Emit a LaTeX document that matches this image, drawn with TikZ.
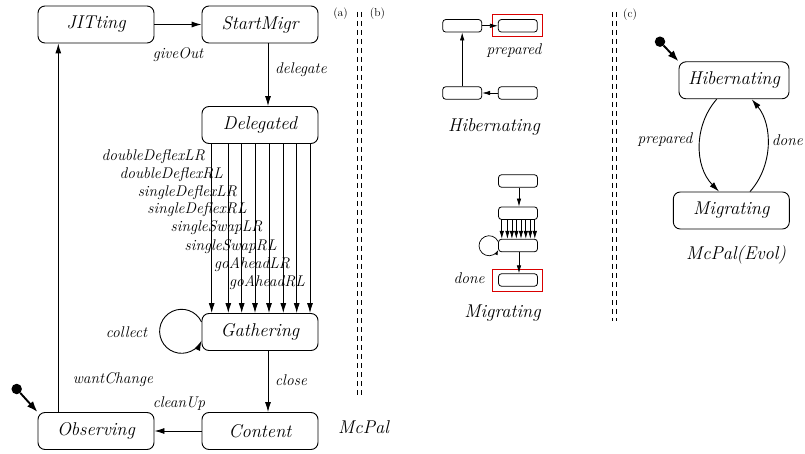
\documentclass[tikz,border=0pt]{standalone}
\usepackage{fontspec}
\usetikzlibrary{arrows.meta,calc}
\newcommand\mystatefont{\fontsize{18.5}{20}\selectfont\itshape}
\newcommand\mylabelfont{\fontsize{15.5}{17}\selectfont\itshape}
\newcommand\mytagfont{\fontsize{11.5}{13}\selectfont}
\begin{document}
\begin{tikzpicture}[x=1pt,y=-1pt,
  state/.style={draw, line width=0.9pt, rounded corners=7pt, minimum width=116pt,
                minimum height=37pt, inner sep=0pt, font=\mystatefont},
  mini/.style={draw, line width=0.8pt, rounded corners=3pt, minimum width=39pt,
               minimum height=12.5pt, inner sep=0pt},
  arr/.style={line width=0.9pt, -{Latex[length=10pt,width=6pt]}},
  smallarr/.style={line width=0.7pt, -{Latex[length=8pt,width=4.5pt]}},
  lbl/.style={font=\mylabelfont, inner sep=0pt},
  title/.style={font=\mystatefont, inner sep=0pt},
  tag/.style={font=\mytagfont, inner sep=0pt},
  sep/.style={line width=0.7pt, dash pattern=on 5pt off 4pt},
  hilite/.style={draw=red!85!black, line width=0.7pt, minimum width=50pt,
                 minimum height=22pt, inner sep=0pt},
  init/.style={line width=1.9pt, -{Latex[length=11pt,width=8pt]}},
  dot/.style={circle, fill, minimum size=10.5pt, inner sep=0pt}
]
\useasboundingbox (0,0) rectangle (805,454);

% ---------------- (a) McPal ----------------
\node[state] (jit)   at (96,24.5)  {JITting};
\node[state] (start) at (260,24.5) {StartMigr};
\node[state] (deleg) at (260,125)  {Delegated};
\node[state] (gath)  at (260,332)  {Gathering};
\node[state] (cont)  at (260,431)  {Content};
\node[state] (obs)   at (96,431)   {Observing};
\node[dot] (dotL) at (16.7,389) {};

\draw[arr] (jit) -- (start);
\draw[arr] ($(start.south)+(8,0)$) -- ($(deleg.north)+(8,0)$);
\foreach \dx in {-48.3,-31.7,-18.3,-5,9,23.3,36.7,50}
  \draw[arr] ($(deleg.south)+(\dx,0)$) -- ($(gath.north)+(\dx,0)$);
\draw[arr] ($(gath.west)+(0,-10)$) arc[start angle=-25, end angle=-335, radius=22];
\draw[arr] ($(gath.south)+(8,0)$) -- ($(cont.north)+(8,0)$);
\draw[arr] (cont) -- (obs);
\draw[arr] ($(obs.north)+(-37.7,0)$) -- ($(jit.south)+(-37.7,0)$);
\draw[init] (dotL) -- (obs.north west);

\node[lbl] (lgive) at (178,55) {giveOut};
\node[lbl, anchor=west] (ldel) at (275,70) {delegate};
\node[lbl, anchor=east] (l1) at (205,157)   {doubleDeflexLR};
\node[lbl, anchor=east] (l2) at (223,175)   {doubleDeflexRL};
\node[lbl, anchor=east] (l3) at (237,193)   {singleDeflexLR};
\node[lbl, anchor=east] (l4) at (246.7,210) {singleDeflexRL};
\node[lbl, anchor=east] (l5) at (262.7,228) {singleSwapLR};
\node[lbl, anchor=east] (l6) at (276.7,246.7) {singleSwapRL};
\node[lbl, anchor=east] (l7) at (290,265)   {goAheadLR};
\node[lbl, anchor=east] (l8) at (305,282.7) {goAheadRL};
\node[lbl] (lcoll) at (126.5,332) {collect};
\node[lbl, anchor=west] (lclose) at (275,380) {close};
\node[lbl] (lwant) at (113,380) {wantChange};
\node[lbl] (lclean) at (179,404) {cleanUp};
\node[title, anchor=west] (tA) at (338,427) {McPal};

\node[tag] (ta) at (340.5,14) {(a)};
\node[tag] (tb) at (377.5,14) {(b)};
\node[tag] (tc) at (630,15) {(c)};

% separators
\draw[sep] (357.7,12) -- (357.7,397);
\draw[sep] (361.7,12) -- (361.7,397);
\draw[sep] (612.7,12) -- (612.7,321);
\draw[sep] (616.7,12) -- (616.7,321);

% ---------------- (b) Hibernating ----------------
\node[mini] (h1) at (462.2,25.8) {};
\node[mini] (h2) at (517.8,25.8) {};
\node[mini] (h3) at (462.2,93) {};
\node[mini] (h4) at (517.8,93) {};
\node[hilite] (hr) at (517.5,25.5) {};
\draw[smallarr] (h1) -- (h2);
\draw[smallarr] (h4) -- (h3);
\draw[smallarr] (h3) -- (h1);
\node[lbl] (lprep) at (514,50.7) {prepared};
\node[title] (tH) at (494,126.7) {Hibernating};

% ---------------- (b) Migrating ----------------
\node[mini] (m1) at (518,181) {};
\node[mini] (m2) at (518,213.2) {};
\node[mini] (m3) at (518,245.5) {};
\node[mini] (m4) at (518,280) {};
\node[hilite] (mr) at (517.7,280.2) {};
\draw[smallarr] ($(m1.south)+(1,0)$) -- ($(m2.north)+(1,0)$);
\foreach \dx in {-16.2,-10.6,-6.1,-1.7,3.0,7.8,12.3,16.8}
  \draw[smallarr] ($(m2.south)+(\dx,0)$) -- ($(m3.north)+(\dx,0)$);
\draw[line width=0.7pt, -{Latex[length=5pt,width=3.5pt]}] ($(m3.west)+(0,-4)$) arc[start angle=-25, end angle=-335, radius=10];
\draw[smallarr] ($(m3.south)+(1,0)$) -- ($(m4.north)+(1,0)$);
\node[lbl] (ldone) at (469,278.3) {done};
\node[title] (tM) at (502.5,313.3) {Migrating};

% ---------------- (c) McPal(Evol) ----------------
\node[state, minimum width=110pt] (hib) at (734,80.3) {Hibernating};
\node[state] (mig) at (731.3,210.5) {Migrating};
\node[dot] (dotC) at (660,41.7) {};
\draw[init] (dotC) -- (hib.north west);
\draw[arr] ($(hib.south)+(-17.3,0)$) .. controls (694,125) and (694,166) .. ($(mig.north)+(-12.3,0)$);
\draw[arr] ($(mig.north)+(18.7,0)$) .. controls (773,166) and (773,125) .. ($(hib.south)+(17.7,0)$);
\node[lbl] (lprepC) at (665,140) {prepared};
\node[lbl, anchor=west] (ldoneC) at (771.7,140) {done};
\node[title] (tC) at (736,255) {McPal(Evol)};
\end{tikzpicture}
\end{document}
